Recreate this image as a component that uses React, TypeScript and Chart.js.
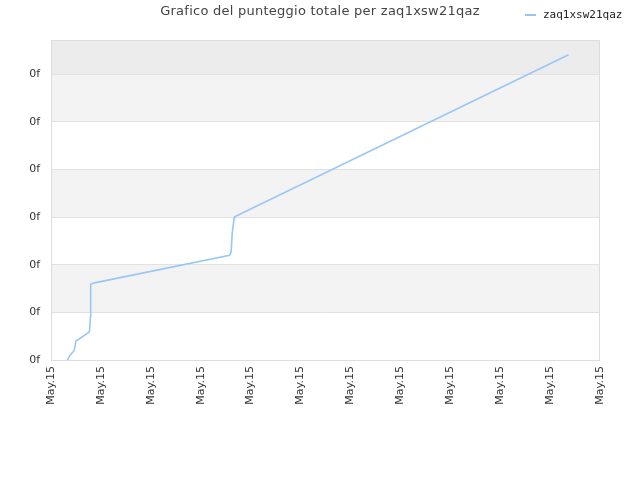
import React, { useEffect, useRef } from 'react';
import { Chart, registerables } from 'chart.js';

Chart.register(...registerables);

const TITLE = 'Grafico del punteggio totale per zaq1xsw21qaz';
const SERIES_NAME = 'zaq1xsw21qaz';
const X_TICK_LABEL = 'May.15';
const Y_TICK_LABEL = '0f';

// positions along the time axis (one unit per tick) and the score values
const X_VALUES = [0.33, 0.38, 0.46, 0.48, 0.5, 0.55, 0.77, 0.79, 0.79, 0.8, 0.87, 3.58, 3.61, 3.63, 3.67, 3.68, 10.37];
const Y_VALUES = [0, 0.1, 0.19, 0.28, 0.4, 0.43, 0.59, 0.91, 1.2, 1.59, 1.62, 2.2, 2.27, 2.66, 2.98, 3.01, 6.41];

const bandsPlugin = {
    id: 'bands',
    beforeDraw(chart: any) {
        const { ctx, chartArea, scales } = chart;
        const y = scales.y;
        ctx.save();
        for (let i = 0; i < 7; i++) {
            const top = y.getPixelForValue(Math.min(i + 1, y.max));
            const bottom = y.getPixelForValue(i);
            if (i === 6) ctx.fillStyle = '#ececec';
            else if (i % 2 === 1) ctx.fillStyle = '#f3f3f3';
            else ctx.fillStyle = '#ffffff';
            ctx.fillRect(chartArea.left, top, chartArea.right - chartArea.left, bottom - top);
        }
        ctx.restore();
    },
    afterDraw(chart: any) {
        const { ctx, chartArea } = chart;
        ctx.save();
        ctx.strokeStyle = '#dddddd';
        ctx.lineWidth = 1;
        ctx.strokeRect(chartArea.left + 0.5, chartArea.top + 0.5, chartArea.right - chartArea.left - 1, chartArea.bottom - chartArea.top);
        // title
        ctx.fillStyle = '#444444';
        ctx.font = '13px "DejaVu Sans"';
        (ctx as any).letterSpacing = '0.25px';
        ctx.textAlign = 'center';
        ctx.textBaseline = 'middle';
        ctx.fillText(TITLE, 320, 12);
        (ctx as any).letterSpacing = '0px';
        // legend
        ctx.strokeStyle = '#99c7f5';
        ctx.lineWidth = 2;
        ctx.beginPath();
        ctx.moveTo(525, 15);
        ctx.lineTo(536, 15);
        ctx.stroke();
        ctx.fillStyle = '#222222';
        ctx.font = '11px "DejaVu Sans Mono"';
        ctx.textAlign = 'left';
        ctx.fillText(chart.data.datasets[0].label, 543, 15);
        ctx.restore();
    }
};

export default function App() {
    const chartRef = useRef<HTMLCanvasElement>(null);
    const chartInstance = useRef<Chart | null>(null);

    useEffect(() => {
        document.body.style.margin = '0';
        if (chartInstance.current) chartInstance.current.destroy();
        if (!chartRef.current) return;
        const ctx = chartRef.current.getContext('2d');
        if (!ctx) return;

        const points = X_VALUES.map((x, i) => ({ x, y: Y_VALUES[i] }));

        chartInstance.current = new Chart(ctx, {
            type: 'line',
            data: {
                datasets: [
                    {
                        label: SERIES_NAME,
                        data: points,
                        borderColor: '#99c7f5',
                        borderWidth: 1.6,
                        pointRadius: 0,
                        tension: 0,
                        fill: false,
                    }
                ]
            },
            options: {
                animation: false,
                responsive: false,
                maintainAspectRatio: false,
                layout: { padding: { top: 40, right: 40, bottom: 70, left: 0 } },
                plugins: {
                    legend: { display: false },
                    title: { display: false },
                    tooltip: { enabled: false }
                },
                scales: {
                    x: {
                        type: 'linear',
                        min: 0,
                        max: 11,
                        afterFit: (s: any) => { s.height = 50; },
                        grid: { display: false, drawTicks: false },
                        border: { display: false },
                        ticks: {
                            stepSize: 1,
                            autoSkip: false,
                            maxRotation: 90,
                            minRotation: 90,
                            padding: 6,
                            color: '#333333',
                            font: { family: 'DejaVu Sans', size: 11 },
                            callback: () => X_TICK_LABEL
                        }
                    },
                    y: {
                        min: 0,
                        max: 6.72,
                        afterFit: (s: any) => { s.width = 51; },
                        afterBuildTicks: (s: any) => { s.ticks = s.ticks.filter((t: any) => Number.isInteger(t.value)); },
                        grid: { color: '#e2e2e2', drawTicks: false },
                        border: { display: false },
                        ticks: {
                            stepSize: 1,
                            padding: 11,
                            color: '#333333',
                            font: { family: 'DejaVu Sans', size: 11 },
                            callback: () => Y_TICK_LABEL
                        }
                    }
                }
            },
            plugins: [bandsPlugin]
        });

        return () => { if (chartInstance.current) chartInstance.current.destroy(); };
    }, []);

    return (
        <div style={{ width: 640, height: 480, background: '#ffffff' }}>
            <canvas ref={chartRef} width={640} height={480}></canvas>
        </div>
    );
}
